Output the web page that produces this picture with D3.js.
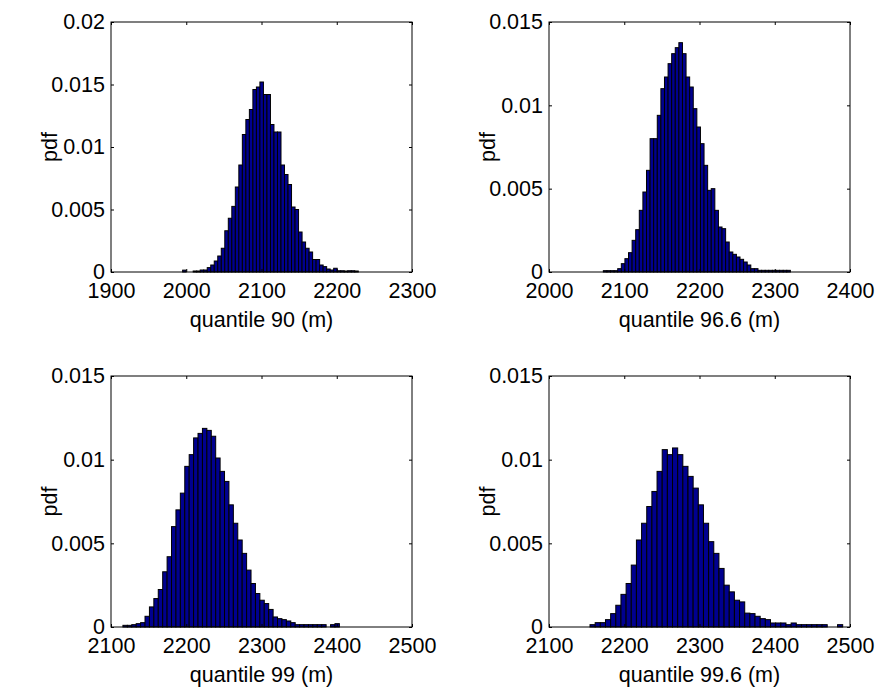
<!DOCTYPE html>
<html>
<head>
<meta charset="utf-8">
<script src="https://cdn.jsdelivr.net/npm/d3@7"></script>
<style>
  html, body { margin: 0; padding: 0; background: #fff; }
  svg { display: block; }
  text { font-family: Arial, "Liberation Sans", Helvetica, sans-serif; fill: #000; }
</style>
</head>
<body>
<svg id="chart" width="880" height="689"></svg>
<script>
// ---------- data ----------
// histogram heights (pdf) per bin; bins are regular, given by first edge and width
const q90Pdf = [0.00015,0,0,0.00008,0.00008,0.00016,0.00016,0.00035,0.00056,0.00088,
  0.00128,0.0019,0.0033,0.0043,0.00525,0.0068,0.00856,0.011,0.0122,0.013,
  0.0146,0.0148,0.0152,0.0142,0.0142,0.0118,0.0112,0.0112,0.00856,0.0078,
  0.007,0.0052,0.005,0.0032,0.0024,0.0019,0.0016,0.001,0.001,0.00056,
  0.00043,0.00024,0.00016,0.0003,0.0001,0.0001,0.00008,0.0001,0.0001,0.00008];
const q90Bins = [1995.2, 4.668];

const q966Pdf = [0.00008,0.00008,0.00008,0.00008,0.0002,0.0005,0.0008,0.00116,0.0019,0.00254,
  0.0037,0.0048,0.0061,0.008,0.008,0.0094,0.011,0.0117,0.0125,0.0131,
  0.01346,0.01376,0.0131,0.0117,0.0111,0.0098,0.0087,0.0077,0.0064,0.0049,
  0.005,0.0037,0.0027,0.0026,0.0018,0.0012,0.00106,0.0009,0.00076,0.0006,
  0.00042,0.0002,0.0002,0.0001,0.0001,0.0001,0.0001,0.0001,0.0001,0.0001,
  0.0001,0.0001];
const q966Bins = [2072.2, 4.78];

const q99Pdf = [0.0001,0.0001,0.00014,0.0002,0.00026,0.00064,0.0012,0.0017,0.00224,0.0033,
  0.0042,0.006,0.007,0.008,0.0096,0.0103,0.0113,0.01157,0.01187,0.01175,
  0.0114,0.0101,0.0093,0.0087,0.0073,0.0062,0.0052,0.0044,0.0034,0.0026,
  0.002,0.0016,0.0014,0.00105,0.0006,0.0005,0.00044,0.00036,0.00026,0.00014,
  0.00014,0.00014,0.00014,0.00014,0.00014,0.00014,0,0.00014,0.0002];
const q99Bins = [2115.85, 5.87];

const q996Pdf = [0.00014,0.00026,0.00026,0.00044,0.0008,0.0013,0.00195,0.0026,0.0037,0.0052,
  0.0062,0.0072,0.0081,0.0093,0.0106,0.0103,0.0107,0.0103,0.0096,0.009,
  0.0083,0.0073,0.0062,0.0051,0.0044,0.0035,0.0025,0.0021,0.0016,0.0015,
  0.00083,0.0008,0.00064,0.0005,0.00044,0.00024,0.00024,0.00024,0.00014,0.00024,
  0.00014,0.00014,0.00014,0.00014,0.00014,0.00014,0,0,0.00014];
const q996Bins = [2154.5, 6.853];

// axis ticks
const xTicks90 = [1900, 2000, 2100, 2200, 2300];
const xTicks966 = [2000, 2100, 2200, 2300, 2400];
const xTicks99 = [2100, 2200, 2300, 2400, 2500];
const yTicksTop = [0, 0.005, 0.01, 0.015, 0.02];
const yTicksOther = [0, 0.005, 0.01, 0.015];
const yTickLabels = {0: "0", 0.005: "0.005", 0.01: "0.01", 0.015: "0.015", 0.02: "0.02"};
const xLabels = ["quantile 90 (m)", "quantile 96.6 (m)", "quantile 99 (m)", "quantile 99.6 (m)"];
const yLabel = "pdf";

// ---------- layout ----------
const panels = [
  { pdf: q90Pdf,  bins: q90Bins,  xTicks: xTicks90,  yTicks: yTicksTop,   left: 111, top: 22,  bottom: 272, label: xLabels[0] },
  { pdf: q966Pdf, bins: q966Bins, xTicks: xTicks966, yTicks: yTicksOther, left: 549, top: 22,  bottom: 272, label: xLabels[1] },
  { pdf: q99Pdf,  bins: q99Bins,  xTicks: xTicks99,  yTicks: yTicksOther, left: 111, top: 376, bottom: 627, label: xLabels[2] },
  { pdf: q996Pdf, bins: q996Bins, xTicks: xTicks99,  yTicks: yTicksOther, left: 549, top: 376, bottom: 627, label: xLabels[3] }
];
const plotW = 301;
const FS = 21.5;
const svg = d3.select("#chart");

panels.forEach(p => {
  const x = d3.scaleLinear()
    .domain([p.xTicks[0], p.xTicks[p.xTicks.length - 1]])
    .range([p.left, p.left + plotW]);
  const y = d3.scaleLinear()
    .domain([0, p.yTicks[p.yTicks.length - 1]])
    .range([p.bottom, p.top]);

  const g = svg.append("g");
  const [start, w] = p.bins;

  // bars
  g.append("g").selectAll("rect")
    .data(p.pdf)
    .join("rect")
    .attr("x", (d, i) => x(start + i * w))
    .attr("width", (d, i) => x(start + (i + 1) * w) - x(start + i * w))
    .attr("y", d => y(d))
    .attr("height", d => y(0) - y(d))
    .attr("fill", "#00008f")
    .attr("stroke", "#000")
    .attr("stroke-width", 1);

  // axes (inward ticks)
  const fmtY = v => yTickLabels[v];
  const bottomAx = g.append("g").attr("transform", `translate(0,${p.bottom})`)
    .call(d3.axisBottom(x).tickValues(p.xTicks).tickSizeInner(-3).tickSizeOuter(0).tickPadding(11).tickFormat(d3.format("d")));
  const topAx = g.append("g").attr("transform", `translate(0,${p.top})`)
    .call(d3.axisTop(x).tickValues(p.xTicks).tickSizeInner(-3).tickSizeOuter(0).tickFormat(""));
  const leftAx = g.append("g").attr("transform", `translate(${p.left},0)`)
    .call(d3.axisLeft(y).tickValues(p.yTicks).tickSizeInner(-3).tickSizeOuter(0).tickPadding(6).tickFormat(fmtY));
  const rightAx = g.append("g").attr("transform", `translate(${p.left + plotW},0)`)
    .call(d3.axisRight(y).tickValues(p.yTicks).tickSizeInner(-3).tickSizeOuter(0).tickFormat(""));

  [bottomAx, topAx, leftAx, rightAx].forEach(a => {
    a.select(".domain").remove();
    a.selectAll("line").attr("stroke", "#000");
    a.selectAll("text").attr("font-size", FS).attr("font-family", "Arial, 'Liberation Sans', sans-serif").attr("fill", "#000");
  });

  // box
  g.append("rect")
    .attr("x", p.left).attr("y", p.top)
    .attr("width", plotW).attr("height", p.bottom - p.top)
    .attr("fill", "none").attr("stroke", "#000").attr("stroke-width", 1);

  // labels
  g.append("text")
    .attr("x", p.left + plotW / 2).attr("y", p.bottom + 55)
    .attr("text-anchor", "middle").attr("font-size", FS)
    .text(p.label);
  g.append("text")
    .attr("transform", `translate(${p.left - 54},${(p.top + p.bottom) / 2}) rotate(-90)`)
    .attr("text-anchor", "middle").attr("font-size", FS)
    .text(yLabel);
});
</script>
</body>
</html>
